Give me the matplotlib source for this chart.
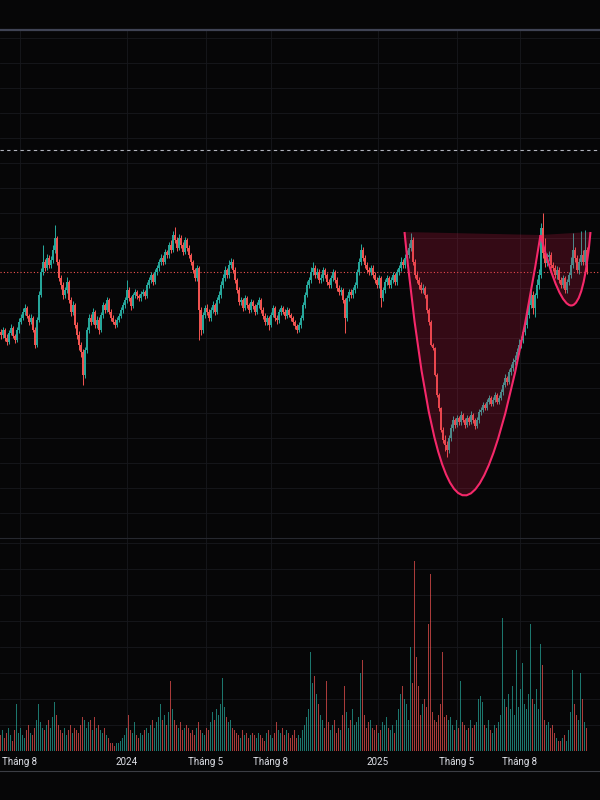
"""
Cup-and-handle candlestick chart with volume pane (dark trading-terminal style).
Each candle below stands for two trading sessions, Jul 2023 - Oct 2025.
"""

import matplotlib
matplotlib.use("Agg")
import matplotlib.pyplot as plt
from matplotlib.path import Path
from matplotlib.patches import PathPatch
from matplotlib.lines import Line2D
from matplotlib.ticker import MultipleLocator
import numpy as np

# ---------------------------------------------------------------------------
# DATA (price in thousand VND, volume in 100k shares)
# ---------------------------------------------------------------------------

OPENS = [
    23.1, 22.8, 23.3, 22.5, 22.1, 23.0, 23.5, 22.7, 22.3, 23.3,
    24.1, 24.5, 25.1, 25.5, 24.7, 24.1, 24.5, 23.3, 21.8, 24.3,
    26.8, 29.1, 30.1, 29.5, 30.5, 29.8, 30.3, 31.3, 32.5, 30.1,
    28.5, 27.8, 26.8, 27.3, 28.1, 26.3, 25.1, 25.8, 23.8, 22.8,
    21.8, 21.1, 18.8, 21.3, 23.3, 24.5, 24.1, 25.1, 23.8, 24.3,
    23.3, 24.8, 25.8, 25.3, 26.3, 25.1, 24.5, 24.1, 23.8, 24.3,
    24.7, 25.3, 25.8, 26.3, 27.3, 26.5, 25.7, 26.8, 27.1, 26.7,
    26.5, 26.9, 27.1, 26.7, 27.8, 28.3, 28.8, 28.1, 29.1, 29.5,
    30.1, 30.5, 30.1, 31.1, 30.8, 31.8, 31.3, 32.8, 32.3, 31.5,
    32.5, 31.8, 31.1, 32.3, 31.5, 30.8, 30.1, 29.3, 28.5, 29.5,
    25.3, 23.3, 24.8, 25.5, 25.1, 24.5, 25.3, 25.8, 25.1, 26.3,
    26.8, 27.8, 28.5, 29.3, 28.8, 29.8, 30.1, 29.3, 28.3, 27.3,
    26.1, 26.3, 25.5, 26.5, 25.8, 25.3, 26.1, 25.7, 25.1, 25.8,
    26.3, 25.3, 24.7, 24.1, 24.5, 23.8, 24.8, 25.5, 24.5, 24.3,
    25.1, 25.5, 25.1, 24.7, 25.3, 24.8, 24.5, 24.1, 23.7, 23.3,
    23.8, 24.5, 25.8, 26.8, 27.8, 28.3, 29.1, 29.5, 28.8, 29.1,
    28.3, 28.5, 29.3, 28.8, 28.1, 27.8, 28.5, 29.1, 28.3, 27.5,
    27.1, 27.3, 26.3, 24.5, 26.5, 27.1, 26.8, 27.3, 27.8, 29.1,
    30.1, 31.3, 30.5, 29.8, 29.3, 29.1, 29.5, 28.8, 28.3, 27.8,
    28.5, 26.5, 27.3, 28.1, 28.5, 27.8, 28.3, 28.8, 28.1, 29.1,
    29.5, 30.1, 29.8, 30.5, 30.8, 31.5, 32.3, 30.1, 28.8, 28.3,
    27.8, 27.3, 27.5, 26.8, 25.3, 24.1, 21.8, 21.5, 18.8, 16.8,
    15.5, 13.3, 12.3, 11.8, 11.3, 12.5, 13.5, 14.3, 13.8, 14.5,
    14.1, 14.8, 14.3, 13.8, 14.5, 14.1, 14.8, 14.3, 13.7, 14.3,
    15.1, 15.3, 15.8, 15.5, 16.1, 16.5, 15.9, 16.3, 16.8, 16.1,
    16.5, 17.1, 17.8, 18.5, 18.1, 19.1, 19.5, 20.1, 20.3, 21.1,
    21.8, 22.3, 23.1, 23.8, 24.8, 25.8, 26.8, 25.5, 26.8, 27.8,
    28.8, 33.5, 31.0, 30.0, 30.6, 30.8, 29.8, 29.5, 28.8, 29.3,
    28.3, 27.8, 28.5, 27.3, 28.1, 28.8, 29.8, 31.3, 30.5, 29.3,
    30.1, 30.8, 30.1, 31.3,
]

HIGHS = [
    23.4, 23.6, 23.5, 22.9, 23.3, 23.9, 23.7, 22.9, 23.6, 24.5,
    24.9, 25.5, 25.9, 25.7, 24.9, 24.9, 24.7, 23.6, 24.6, 27.2,
    29.5, 31.8, 30.4, 30.9, 30.8, 30.7, 31.8, 33.8, 32.7, 30.4,
    28.8, 28.1, 27.6, 28.6, 28.3, 26.6, 26.2, 26.0, 24.1, 23.2,
    22.1, 21.4, 21.6, 23.6, 24.9, 24.9, 25.5, 25.3, 24.7, 24.6,
    25.1, 26.1, 26.0, 26.6, 26.5, 25.4, 24.8, 24.4, 24.6, 25.0,
    25.6, 26.1, 26.6, 28.3, 27.6, 26.7, 27.0, 27.4, 27.3, 26.9,
    27.2, 27.4, 27.3, 28.1, 28.6, 29.1, 29.0, 29.4, 29.8, 30.4,
    30.9, 30.8, 31.4, 31.3, 32.1, 32.3, 33.2, 33.6, 32.6, 32.9,
    32.8, 32.1, 32.6, 32.5, 31.8, 31.0, 30.3, 29.5, 29.8, 29.7,
    25.6, 25.1, 25.8, 25.9, 25.4, 25.6, 26.2, 26.0, 26.6, 27.2,
    28.2, 28.9, 29.7, 29.5, 30.3, 30.5, 30.4, 29.6, 28.5, 27.6,
    26.6, 26.5, 26.8, 26.7, 26.0, 26.4, 26.3, 25.9, 26.1, 26.6,
    26.5, 25.6, 25.0, 24.8, 24.7, 25.1, 25.8, 25.7, 24.8, 25.4,
    25.8, 25.7, 25.4, 25.6, 25.5, 25.0, 24.7, 24.3, 23.9, 24.1,
    24.8, 26.1, 27.1, 28.2, 28.6, 29.6, 30.1, 29.8, 29.5, 29.4,
    28.9, 29.6, 29.5, 29.0, 28.4, 28.8, 29.4, 29.3, 28.6, 27.8,
    27.6, 27.5, 26.5, 26.8, 27.4, 27.4, 27.6, 28.1, 29.4, 30.5,
    31.9, 31.6, 30.8, 30.1, 29.6, 29.8, 29.8, 29.1, 28.6, 28.8,
    28.7, 27.6, 28.4, 28.8, 28.7, 28.6, 29.1, 29.0, 29.4, 29.8,
    30.6, 30.4, 30.9, 31.3, 32.0, 33.0, 32.6, 30.4, 29.2, 28.6,
    28.1, 27.9, 27.7, 26.9, 25.5, 24.3, 22.0, 21.6, 19.0, 17.0,
    15.6, 13.6, 12.8, 12.2, 12.8, 13.9, 14.7, 14.5, 14.8, 14.7,
    15.2, 15.0, 14.5, 14.8, 14.7, 15.2, 15.0, 14.5, 14.6, 15.4,
    15.6, 16.1, 16.0, 16.4, 16.8, 16.7, 16.6, 17.1, 17.0, 16.8,
    17.4, 18.1, 18.9, 18.7, 19.4, 19.9, 20.5, 20.8, 21.5, 22.4,
    22.7, 23.5, 24.2, 25.2, 26.2, 27.4, 27.2, 27.0, 28.4, 29.4,
    34.0, 35.0, 32.5, 31.0, 31.2, 31.1, 30.1, 29.8, 29.7, 29.6,
    28.6, 28.8, 28.7, 28.4, 29.1, 30.6, 33.0, 31.6, 30.8, 30.5,
    33.2, 31.3, 33.3, 31.6,
]

LOWS = [
    22.4, 22.5, 22.2, 21.8, 21.9, 22.8, 22.5, 22.0, 22.1, 23.0,
    23.9, 24.3, 24.8, 24.5, 23.8, 23.9, 23.1, 21.5, 21.6, 24.1,
    26.6, 28.8, 29.2, 29.3, 29.5, 29.5, 30.0, 31.0, 29.8, 28.2,
    27.4, 26.4, 26.5, 27.0, 26.0, 24.7, 24.8, 23.5, 22.4, 21.3,
    20.6, 17.8, 18.5, 21.0, 23.0, 23.8, 23.9, 23.5, 23.5, 22.9,
    23.1, 24.5, 25.0, 25.1, 24.9, 24.2, 23.9, 23.5, 23.6, 24.1,
    24.5, 25.0, 25.5, 26.0, 26.2, 25.3, 25.5, 26.5, 26.4, 26.2,
    26.2, 26.7, 26.4, 26.5, 27.5, 28.0, 27.8, 27.9, 28.8, 29.2,
    29.8, 29.8, 29.9, 30.5, 30.5, 31.0, 31.1, 32.0, 31.2, 31.3,
    31.5, 30.8, 30.9, 31.2, 30.5, 29.8, 29.0, 28.2, 28.2, 22.3,
    22.8, 23.0, 24.5, 24.8, 24.2, 24.2, 25.0, 24.8, 24.9, 26.0,
    26.5, 27.5, 28.2, 28.5, 28.5, 29.5, 29.0, 28.0, 27.0, 25.8,
    25.8, 25.2, 25.3, 25.5, 25.0, 25.1, 25.4, 24.8, 24.9, 25.5,
    25.0, 24.4, 23.8, 23.8, 23.3, 23.6, 24.6, 24.2, 23.9, 24.0,
    24.8, 24.9, 24.4, 24.5, 24.6, 24.2, 23.8, 23.4, 23.0, 23.1,
    23.5, 24.3, 25.5, 26.6, 27.5, 28.0, 28.8, 28.5, 28.5, 28.0,
    28.0, 28.2, 28.5, 27.8, 27.5, 27.5, 28.2, 28.0, 27.2, 26.8,
    26.8, 26.0, 23.0, 24.2, 26.2, 26.5, 26.5, 27.0, 27.5, 28.8,
    29.8, 30.2, 29.5, 29.0, 28.8, 28.8, 28.5, 28.0, 27.5, 27.5,
    25.6, 26.2, 27.0, 27.8, 27.5, 27.5, 28.0, 27.8, 27.8, 28.8,
    29.2, 29.5, 29.5, 30.2, 30.5, 31.2, 29.8, 28.5, 28.0, 27.4,
    27.0, 27.0, 26.5, 25.0, 23.8, 21.7, 21.3, 18.7, 16.6, 15.2,
    13.1, 12.0, 11.2, 10.6, 11.0, 12.2, 13.2, 13.5, 13.6, 13.8,
    13.8, 14.1, 13.5, 13.6, 13.8, 13.9, 14.0, 13.4, 13.5, 14.0,
    14.8, 15.1, 15.3, 15.3, 15.9, 15.7, 15.7, 16.1, 15.9, 15.9,
    16.3, 16.8, 17.6, 17.8, 17.9, 18.8, 19.2, 19.8, 20.0, 20.9,
    21.5, 22.0, 22.8, 23.5, 24.5, 25.5, 24.9, 24.6, 26.5, 27.4,
    28.5, 30.5, 29.6, 29.7, 30.2, 29.5, 29.2, 28.5, 28.4, 28.0,
    27.5, 27.5, 27.0, 27.0, 27.8, 28.5, 29.5, 30.1, 29.0, 28.9,
    29.8, 29.8, 29.8, 28.9,
]

CLOSES = [
    22.8, 23.3, 22.5, 22.1, 23.0, 23.5, 22.7, 22.3, 23.3, 24.1,
    24.5, 25.1, 25.5, 24.7, 24.1, 24.5, 23.3, 21.8, 24.3, 26.8,
    29.1, 30.1, 29.5, 30.5, 29.8, 30.3, 31.3, 32.5, 30.1, 28.5,
    27.8, 26.8, 27.3, 28.1, 26.3, 25.1, 25.8, 23.8, 22.8, 21.8,
    21.1, 18.8, 21.3, 23.3, 24.5, 24.1, 25.1, 23.8, 24.3, 23.3,
    24.8, 25.8, 25.3, 26.3, 25.1, 24.5, 24.1, 23.8, 24.3, 24.7,
    25.3, 25.8, 26.3, 27.3, 26.5, 25.7, 26.8, 27.1, 26.7, 26.5,
    26.9, 27.1, 26.7, 27.8, 28.3, 28.8, 28.1, 29.1, 29.5, 30.1,
    30.5, 30.1, 31.1, 30.8, 31.8, 31.3, 32.8, 32.3, 31.5, 32.5,
    31.8, 31.1, 32.3, 31.5, 30.8, 30.1, 29.3, 28.5, 29.5, 25.3,
    23.3, 24.8, 25.5, 25.1, 24.5, 25.3, 25.8, 25.1, 26.3, 26.8,
    27.8, 28.5, 29.3, 28.8, 29.8, 30.1, 29.3, 28.3, 27.3, 26.1,
    26.3, 25.5, 26.5, 25.8, 25.3, 26.1, 25.7, 25.1, 25.8, 26.3,
    25.3, 24.7, 24.1, 24.5, 23.8, 24.8, 25.5, 24.5, 24.3, 25.1,
    25.5, 25.1, 24.7, 25.3, 24.8, 24.5, 24.1, 23.7, 23.3, 23.8,
    24.5, 25.8, 26.8, 27.8, 28.3, 29.1, 29.5, 28.8, 29.1, 28.3,
    28.5, 29.3, 28.8, 28.1, 27.8, 28.5, 29.1, 28.3, 27.5, 27.1,
    27.3, 26.3, 24.5, 26.5, 27.1, 26.8, 27.3, 27.8, 29.1, 30.1,
    31.3, 30.5, 29.8, 29.3, 29.1, 29.5, 28.8, 28.3, 27.8, 28.5,
    26.5, 27.3, 28.1, 28.5, 27.8, 28.3, 28.8, 28.1, 29.1, 29.5,
    30.1, 29.8, 30.5, 30.8, 31.5, 32.3, 30.1, 28.8, 28.3, 27.8,
    27.3, 27.5, 26.8, 25.3, 24.1, 21.8, 21.5, 18.8, 16.8, 15.5,
    13.3, 12.3, 11.8, 11.3, 12.5, 13.5, 14.3, 13.8, 14.5, 14.1,
    14.8, 14.3, 13.8, 14.5, 14.1, 14.8, 14.3, 13.7, 14.3, 15.1,
    15.3, 15.8, 15.5, 16.1, 16.5, 15.9, 16.3, 16.8, 16.1, 16.5,
    17.1, 17.8, 18.5, 18.1, 19.1, 19.5, 20.1, 20.3, 21.1, 21.8,
    22.3, 23.1, 23.8, 24.8, 25.8, 26.8, 25.5, 26.8, 27.8, 28.8,
    33.5, 31.0, 30.0, 30.6, 30.8, 29.8, 29.5, 28.8, 29.3, 28.3,
    27.8, 28.5, 27.3, 28.1, 28.8, 29.8, 31.3, 30.5, 29.3, 30.1,
    30.8, 30.1, 31.3, 29.1,
]

VOLUMES = [
    6, 8, 5, 7, 9, 6, 4, 8, 18, 7,
    9, 6, 5, 8, 10, 7, 6, 9, 12, 18,
    11, 9, 8, 10, 12, 9, 13, 19, 14, 10,
    8, 7, 9, 6, 8, 10, 7, 9, 8, 7,
    10, 13, 12, 9, 11, 12, 8, 13, 9, 10,
    8, 7, 9, 6, 5, 3, 3, 2, 3, 3,
    4, 5, 6, 9, 14, 8, 7, 11, 6, 5,
    7, 6, 8, 9, 7, 10, 12, 9, 11, 13,
    18, 12, 14, 10, 15, 27, 16, 12, 10, 9,
    11, 8, 9, 10, 9, 7, 8, 6, 9, 11,
    8, 7, 6, 9, 8, 11, 15, 12, 16, 14,
    18, 28, 17, 13, 11, 12, 9, 8, 7, 6,
    5, 8, 6, 7, 5, 6, 7, 6, 5, 7,
    6, 5, 4, 7, 8, 6, 5, 7, 11, 8,
    7, 9, 6, 8, 7, 5, 6, 8, 5, 6,
    5, 8, 10, 13, 16, 38, 26, 29, 22, 18,
    14, 12, 9, 27, 11, 8, 10, 12, 7, 9,
    8, 14, 25, 15, 9, 12, 16, 10, 11, 13,
    30, 35, 14, 9, 11, 12, 9, 8, 10, 7,
    8, 11, 10, 13, 9, 8, 10, 7, 12, 16,
    22, 25, 20, 18, 12, 40, 26, 73, 36, 25,
    14, 18, 20, 17, 49, 68, 15, 12, 11, 14,
    18, 38, 13, 14, 12, 13, 10, 8, 12, 9,
    27, 11, 10, 8, 9, 12, 9, 10, 11, 20,
    21, 19, 10, 9, 12, 8, 7, 10, 9, 11,
    14, 51, 20, 17, 22, 16, 25, 14, 39, 17,
    24, 34, 18, 16, 22, 49, 20, 18, 24, 16,
    41, 33, 12, 10, 11, 9, 10, 7, 5, 4,
    4, 5, 6, 4, 8, 15, 31, 18, 14, 12,
    30, 20, 11, 9,
]

# time axis labels (bar index of first session of the month)
TICK_POS = [9.5, 63, 102.5, 135, 188.5, 228, 259.5]
TICK_LABELS = ["Tháng 8", "2024", "Tháng 5", "Tháng 8", "2025", "Tháng 5", "Tháng 8"]

LAST_PRICE = 29.1     # red dotted last-price line
ALERT_LEVEL = 41.3    # white dashed horizontal line

# cup-and-handle drawing: (start, control, end) of each quadratic curve
CUP_X = [202, 228, 270]
CUP_Y = [33.1, -19.45, 32.8]
HANDLE_X = [270, 288.5, 295]
HANDLE_Y = [32.8, 18.55, 33.1]

# ---------------------------------------------------------------------------
# STYLE
# ---------------------------------------------------------------------------

BG = "#060607"
GRID = "#17181d"
UP = "#26a69a"
DOWN = "#ef5350"
PATTERN = "#f5286a"
TEXT = "#dfe1e8"


def curve_path(xs, ys, closed):
    """Quadratic curve through the drawing's anchor points."""
    verts = [(xs[0], ys[0]), (xs[1], ys[1]), (xs[2], ys[2])]
    codes = [Path.MOVETO, Path.CURVE3, Path.CURVE3]
    if closed:
        verts += [(xs[0], ys[0]), (xs[0], ys[0])]
        codes += [Path.LINETO, Path.CLOSEPOLY]
    return Path(verts, codes)


def style_axes(ax):
    ax.set_facecolor(BG)
    for spine in ax.spines.values():
        spine.set_visible(False)
    # bar centres land on pixel centres (2 px per bar)
    ax.set_xlim(-0.25, 299.75)
    ax.set_xticks(TICK_POS)
    ax.grid(True, color=GRID, linewidth=0.6)
    ax.set_axisbelow(True)
    ax.tick_params(length=0, labelleft=False, labelbottom=False)


def main():
    o = np.array(OPENS)
    h = np.array(HIGHS)
    l = np.array(LOWS)
    c = np.array(CLOSES)
    v = np.array(VOLUMES)
    x = np.arange(len(c))
    colors = np.where(c >= o, UP, DOWN)

    fig = plt.figure(figsize=(6, 8), dpi=100, facecolor=BG)
    ax = fig.add_axes([0, 0.3275, 1, 0.635])
    axv = fig.add_axes([0, 0.06125, 1, 0.26625])
    style_axes(ax)
    style_axes(axv)

    # --- price pane ---
    ax.set_ylim(2.5, 53.3)
    ax.yaxis.set_major_locator(MultipleLocator(2.5))
    ax.vlines(x, l, h, colors=colors, linewidth=0.72, zorder=2)
    ax.bar(x, np.maximum(np.abs(c - o), 0.08), bottom=np.minimum(o, c),
           width=0.5, color=colors, linewidth=0, zorder=2)

    ax.axhline(LAST_PRICE, color=DOWN, linestyle=(0, (1, 2)), linewidth=0.8, zorder=1)
    ax.axhline(ALERT_LEVEL, color="#b2b5be", linestyle=(0, (3, 3)), linewidth=0.8, zorder=1)

    for xs, ys in ((CUP_X, CUP_Y), (HANDLE_X, HANDLE_Y)):
        ax.add_patch(PathPatch(curve_path(xs, ys, True), facecolor="#d81b4a",
                               alpha=0.22, edgecolor="none", zorder=3))
        ax.add_patch(PathPatch(curve_path(xs, ys, False), facecolor="none",
                               edgecolor=PATTERN, linewidth=1.5, zorder=4))

    # --- volume pane ---
    axv.set_ylim(0, 81.9)
    axv.yaxis.set_major_locator(MultipleLocator(10))
    axv.bar(x, v, width=0.5, color=colors, alpha=0.7, linewidth=0, zorder=2)
    axv.set_xticklabels(TICK_LABELS)
    axv.tick_params(labelbottom=True, labelcolor=TEXT, labelsize=7, pad=4)
    for lab in axv.get_xticklabels():
        lab.set_family(["Roboto", "DejaVu Sans"])

    # frame lines
    for yf, col, lw in ((0.9625, "#3f4354", 1.6), (0.3275, "#26282f", 0.8),
                        (0.03625, "#3b3d44", 0.8)):
        fig.add_artist(Line2D([0, 1], [yf, yf], transform=fig.transFigure,
                              color=col, linewidth=lw))

    fig.savefig("out.png", dpi=100, facecolor=BG)
    plt.close(fig)


if __name__ == "__main__":
    main()
